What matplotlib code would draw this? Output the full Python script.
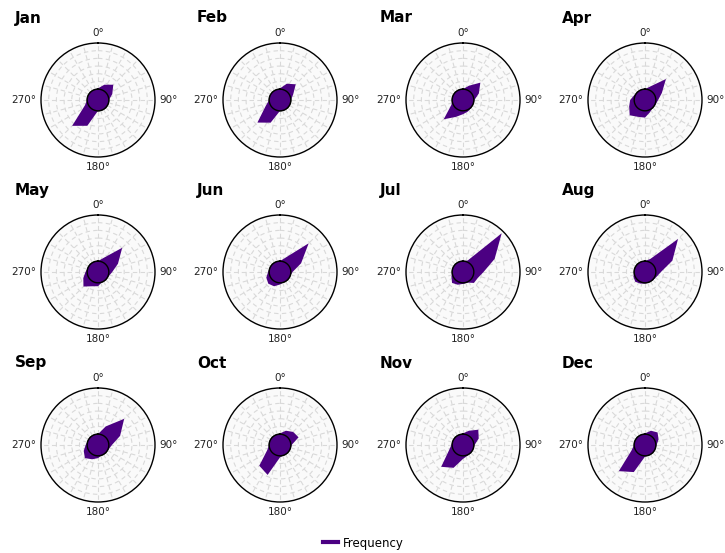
import numpy as np
import matplotlib.pyplot as plt
from matplotlib.lines import Line2D

# wind direction bins (degrees, clockwise from north)
directions = np.arange(0, 360, 22.5)
months = ['Jan', 'Feb', 'Mar', 'Apr', 'May', 'Jun',
          'Jul', 'Aug', 'Sep', 'Oct', 'Nov', 'Dec']

# frequency per direction bin (%)
jan = [0.5, 3.7, 7.0, 3.0, 0, 0, 0, 0, 0, 11.1, 16.7, 2.2, 0, 0, 0, 0]
feb = [0.5, 4.4, 7.4, 2.2, 0, 0, 0, 0, 0, 8.9, 13.7, 3.0, 0, 0, 0, 0]
mar = [0, 3.0, 8.9, 4.1, 0.4, 0, 0.4, 1.1, 2.2, 4.8, 10.7, 1.1, 0, 0, 0, 0]
apr = [0, 2.6, 12.2, 4.8, 1.5, 0.4, 0, 1.5, 4.4, 4.8, 7.0, 4.1, 2.6, 0.7, 0, 0]
may = [0, 3.0, 15.2, 7.0, 2.2, 0.4, 0, 0, 2.2, 3.0, 6.3, 3.3, 1.1, 0, 0, 0]
jun = [0, 3.3, 19.3, 7.8, 1.1, 0, 0, 0, 1.1, 3.0, 3.7, 2.6, 0.7, 0, 0, 0]
jul = [0, 1.1, 28.5, 15.2, 6.3, 3.3, 3.0, 0.4, 0.7, 1.9, 3.0, 1.1, 0, 0, 0, 0]
aug = [0, 2.2, 23.3, 12.2, 3.3, 1.1, 0.4, 0, 0.4, 1.1, 1.9, 1.1, 0, 0, 0, 0]
sep = [0, 6.0, 17.0, 8.5, 2.0, 0.4, 0, 0, 1.5, 3.0, 5.0, 3.0, 1.0, 0, 0, 0]
oct = [0.5, 3.0, 5.0, 6.0, 0.5, 0, 0, 0, 1.0, 14.0, 12.0, 2.0, 0, 0, 0, 0]
nov = [0.5, 3.0, 7.0, 4.0, 0.5, 0, 0, 0.5, 2.0, 9.0, 13.0, 3.0, 0.5, 0, 0, 0]
dec = [0.5, 3.0, 4.5, 2.5, 0.5, 0, 0, 0, 0.5, 12.0, 17.0, 2.5, 0, 0, 0, 0]
freqs = [jan, feb, mar, apr, may, jun, jul, aug, sep, oct, nov, dec]

purple = '#4b0082'
W, H = 725, 553
cxs = [98, 280, 463, 645]
cys = [100, 272, 445]
R = 57

fig = plt.figure(figsize=(W / 100, H / 100), dpi=100)

for i, (m, vals) in enumerate(zip(months, freqs)):
    cx, cy = cxs[i % 4], cys[i // 4]
    ax = fig.add_axes([(cx - R) / W, 1 - (cy + R) / H, 2 * R / W, 2 * R / H],
                      projection='polar')
    ax.set_theta_zero_location('N')
    ax.set_theta_direction(-1)
    ax.set_facecolor('#fafafa')

    th = np.deg2rad(np.append(directions, directions[0]))
    r = np.append(vals, vals[0])
    ax.fill(th, r, color=purple, lw=0, zorder=3, clip_on=False)
    circ = np.linspace(0, 2 * np.pi, 200)
    ax.plot(circ, np.zeros_like(circ), color='black', lw=1, zorder=4, clip_on=False)

    ax.set_ylim(0, 30)
    ax.set_rorigin(-7.04)
    ax.set_yticks([5, 10, 15, 20, 25])
    ax.set_yticklabels([])
    ax.set_xticks(np.deg2rad(np.arange(0, 360, 15)))
    ax.set_xticklabels([])
    ax.grid(color='#d9d9d9', ls=(0, (4, 3)), lw=0.8)
    ax.spines['polar'].set_color('black')
    ax.spines['polar'].set_linewidth(1)
    ax.spines['inner'].set_visible(False)

    # compass labels
    g = 0.04
    kw = dict(transform=ax.transAxes, fontsize=7.5, color='#222222')
    ax.text(0.5, 1 + g, '0°', ha='center', va='bottom', **kw)
    ax.text(1 + g, 0.5, '90°', ha='left', va='center', **kw)
    ax.text(0.5, -g, '180°', ha='center', va='top', **kw)
    ax.text(-g, 0.5, '270°', ha='right', va='center', **kw)

    fig.text((cx - 83) / W, 1 - (cy - 82) / H, m, fontsize=11,
             fontweight='bold', ha='left', va='center')

fig.legend([Line2D([0], [0], color=purple, lw=3)], ['Frequency'],
           loc='center', bbox_to_anchor=(363 / W, 1 - 543 / H), frameon=False,
           fontsize=8.5, handlelength=1.3, handletextpad=0.4)

fig.savefig('out.png', dpi=100)
